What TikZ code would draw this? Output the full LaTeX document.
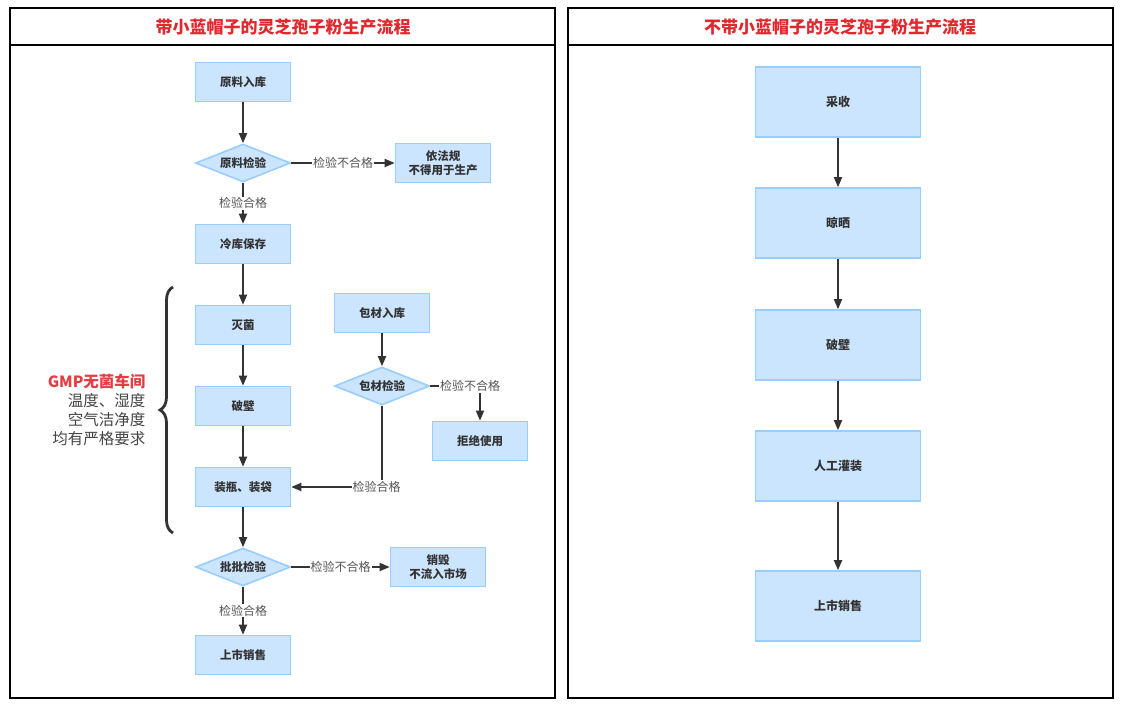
\documentclass[tikz,border=0pt]{standalone}
\usepackage{fontspec}
\setmainfont{Noto Sans CJK SC}
\usepackage{xcolor}
\usetikzlibrary{arrows.meta}
\usetikzlibrary{shapes.geometric}
\usetikzlibrary{decorations.pathreplacing}

\definecolor{boxfill}{HTML}{CCE5FF}
\definecolor{boxline}{HTML}{99CCFF}
\definecolor{linegray}{HTML}{333333}
\definecolor{labelgray}{HTML}{555555}
\definecolor{titlered}{HTML}{E0282E}

\begin{document}
\begin{tikzpicture}[x=1pt,y=-1pt,
  box/.style={draw=boxline,fill=boxfill,line width=1.6pt,minimum width=95pt,minimum height=39pt,
    inner sep=2pt,align=center,text=linegray,font=\fontsize{11.5}{14.5}\selectfont\bfseries},
  check/.style={box,diamond,shape aspect=2.5,minimum width=95pt,minimum height=38pt,inner sep=0pt},
  bigbox/.style={box,minimum width=165pt,minimum height=70pt,font=\fontsize{12}{15}\selectfont\bfseries},
  arr/.style={draw=linegray,line width=1.8pt,-{Triangle[length=10pt,width=8pt]}},
  lbl/.style={fill=white,text=labelgray,inner sep=1pt,font=\fontsize{12}{14}\selectfont},
  panel/.style={draw=black,line width=1.5pt},
  headline/.style={text=titlered,font=\fontsize{17}{20}\selectfont\bfseries}]

  \useasboundingbox (0,0) rectangle (1125,715);

  % left panel
  \draw[panel] (10,8) rectangle (555,698);
  \draw[panel] (10,45) -- (555,45);
  \node[headline] (ltitle) at (283,27) {带小蓝帽子的灵芝孢子粉生产流程};

  \node[box] (ylrk) at (243,82) {原料入库};
  \node[check] (yljy) at (243,163) {原料检验};
  \node[box] (yfg) at (443,163) {依法规\\不得用于生产};
  \node[box] (lkbc) at (243,244) {冷库保存};
  \node[box] (mj) at (243,325) {灭菌};
  \node[box] (pb) at (243,406) {破壁};
  \node[box] (zpzd) at (243,487) {装瓶、装袋};
  \node[check] (ppjy) at (243,567) {批批检验};
  \node[box] (xh) at (438,567) {销毁\\不流入市场};
  \node[box] (sxsl) at (243,655) {上市销售};
  \node[box] (bcrk) at (382,313) {包材入库};
  \node[check] (bcjy) at (382,386) {包材检验};
  \node[box] (jjsy) at (480,441) {拒绝使用};

  \draw[arr] (ylrk) -- (yljy);
  \draw[arr] (yljy) -- node[lbl] {检验不合格} (yfg);
  \draw[arr] (yljy) -- node[lbl] {检验合格} (lkbc);
  \draw[arr] (lkbc) -- (mj);
  \draw[arr] (mj) -- (pb);
  \draw[arr] (pb) -- (zpzd);
  \draw[arr] (zpzd) -- (ppjy);
  \draw[arr] (ppjy) -- node[lbl] {检验不合格} (xh);
  \draw[arr] (ppjy) -- node[lbl] {检验合格} (sxsl);
  \draw[arr] (bcrk) -- (bcjy);
  \draw[arr] (bcjy.east) -| node[lbl,pos=0.4] {检验不合格} (jjsy.north);
  \draw[arr] (bcjy.south) |- node[lbl,pos=0.53] {检验合格} (zpzd.east);

  % GMP brace
  \draw[draw=linegray,line width=2.8pt,decorate,decoration={brace,amplitude=13pt}]
    (173,533) -- (173,287);
  \node[anchor=east,align=right,text=labelgray!80!black,font=\fontsize{15.5}{19}\selectfont]
    (gmp) at (149,410) {{\color{titlered!90!white}\bfseries GMP无菌车间}\\温度、湿度\\空气洁净度\\均有严格要求};

  % right panel
  \draw[panel] (568,8) rectangle (1113,698);
  \draw[panel] (568,45) -- (1113,45);
  \node[headline] (rtitle) at (840,27) {不带小蓝帽子的灵芝孢子粉生产流程};

  \node[bigbox] (cs) at (838,102) {采收};
  \node[bigbox] (ls) at (838,223) {晾晒};
  \node[bigbox] (pb2) at (838,345) {破壁};
  \node[bigbox] (rggz) at (838,466) {人工灌装};
  \node[bigbox] (sxsl2) at (838,606) {上市销售};

  \draw[arr] (cs) -- (ls);
  \draw[arr] (ls) -- (pb2);
  \draw[arr] (pb2) -- (rggz);
  \draw[arr] (rggz) -- (sxsl2);
\end{tikzpicture}
\end{document}
